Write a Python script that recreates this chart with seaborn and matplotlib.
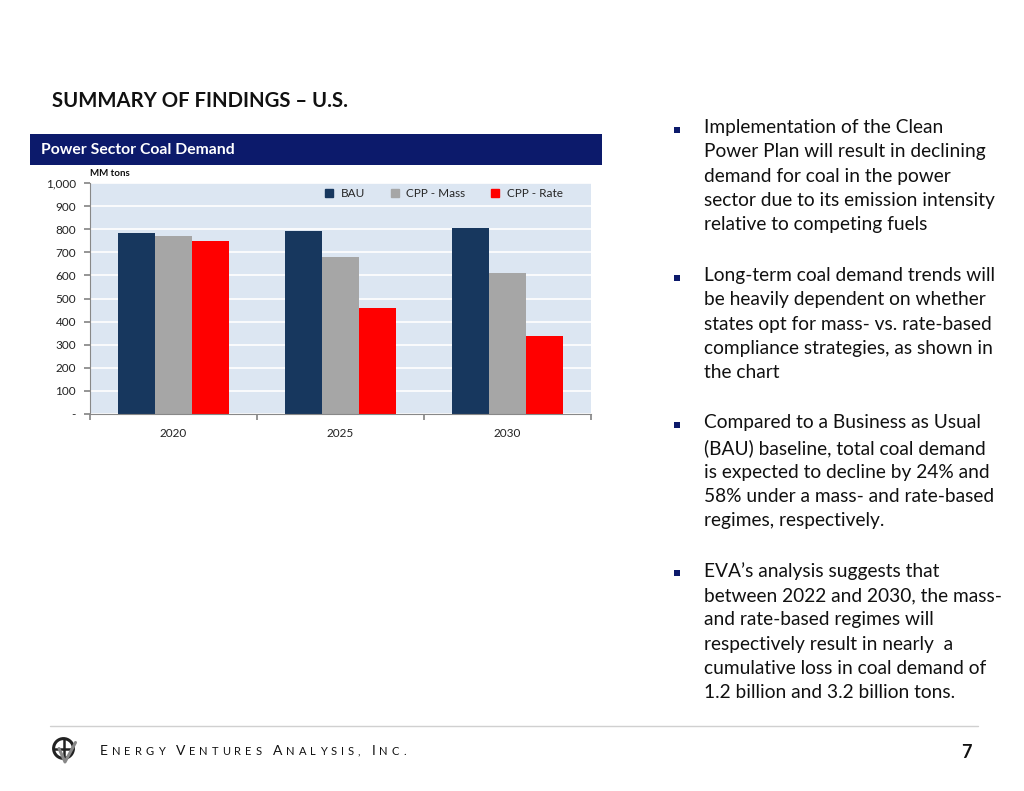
import matplotlib
matplotlib.use("Agg")
import matplotlib.pyplot as plt
from matplotlib.patches import Rectangle, Circle
from matplotlib.lines import Line2D
import matplotlib.ticker as mticker
import seaborn as sns
import pandas as pd

years = ["2020", "2025", "2030"]
series = ["BAU", "CPP - Mass", "CPP - Rate"]
bau = [785, 792, 805]
cpp_mass = [772, 680, 612]
cpp_rate = [749, 459, 338]
colors = ["#17375e", "#a6a6a6", "#ff0000"]

bullets = [
    "Implementation of the Clean\nPower Plan will result in declining\ndemand for coal in the power\nsector due to its emission intensity\nrelative to competing fuels",
    "Long-term coal demand trends will\nbe heavily dependent on whether\nstates opt for mass- vs. rate-based\ncompliance strategies, as shown in\nthe chart",
    "Compared to a Business as Usual\n(BAU) baseline, total coal demand\nis expected to decline by 24% and\n58% under a mass- and rate-based\nregimes, respectively.",
    "EVA\u2019s analysis suggests that\nbetween 2022 and 2030, the mass-\nand rate-based regimes will\nrespectively result in nearly  a\ncumulative loss in coal demand of\n1.2 billion and 3.2 billion tons.",
]

rows = []
for i, y in enumerate(years):
    rows.append((y, series[0], bau[i]))
    rows.append((y, series[1], cpp_mass[i]))
    rows.append((y, series[2], cpp_rate[i]))
df = pd.DataFrame(rows, columns=["year", "scenario", "value"])

sns.set_theme(style="white")
plt.rcParams["font.family"] = ["Lato", "DejaVu Sans"]

W, H = 1024, 791
fig = plt.figure(figsize=(W / 100, H / 100), dpi=100)
fig.patch.set_facecolor("white")

def fx(px):
    return px / W

def fy(py):
    return 1 - py / H

ax = fig.add_axes([fx(90), fy(414), fx(591) - fx(90), fy(183) - fy(414)])
ax.set_facecolor("#dce6f2")
sns.barplot(data=df, x="year", y="value", hue="scenario", palette=colors,
            width=0.66, ax=ax, saturation=1, linewidth=0, legend=False)
ax.set_ylim(0, 1000)
ax.set_xlim(-0.5, 2.5)
ax.set_yticks(range(0, 1001, 100))
ax.yaxis.set_major_formatter(mticker.FuncFormatter(lambda v, p: "-" if v == 0 else f"{int(v):,}"))
ax.grid(axis="y", color="white", linewidth=1.2)
ax.set_axisbelow(True)
ax.set_xlabel("")
ax.set_ylabel("")
for s in ["top", "right"]:
    ax.spines[s].set_visible(False)
for s in ["left", "bottom"]:
    ax.spines[s].set_color("#888888")
    ax.spines[s].set_linewidth(0.8)
ax.set_xticks([-0.5, 0.5, 1.5, 2.5], minor=False)
ax.set_xticklabels([])
ax.set_xticks([0, 1, 2], minor=True)
ax.set_xticklabels(years, minor=True)
ax.tick_params(axis="x", which="major", length=4, color="#888888", direction="out", bottom=True)
ax.tick_params(axis="x", which="minor", length=0, labelsize=8.5, pad=10, labelcolor="#222222")
ax.tick_params(axis="y", length=4, color="#888888", direction="out", left=True, labelsize=8.5,
               labelcolor="#222222", pad=6)

handles = [Line2D([], [], marker="s", linestyle="none", markersize=6, color=c) for c in colors]
leg = ax.legend(handles, series, loc="upper right", ncol=3, frameon=False,
                fontsize=8.5, handletextpad=0.0, columnspacing=1.5,
                bbox_to_anchor=(0.965, 1.025))

# MM tons label
fig.text(fx(90), fy(173), "MM tons", fontsize=7, fontweight="bold", ha="left", va="center", color="#111111")

# header bar
fig.patches.append(Rectangle((fx(30), fy(165)), fx(602) - fx(30), fy(134) - fy(165),
                             transform=fig.transFigure, facecolor="#0c1a6b", edgecolor="none"))
fig.text(fx(41), fy(150), "Power Sector Coal Demand", fontsize=11.3, fontweight="bold",
         color="white", ha="left", va="center")

# title
fig.text(fx(52), fy(101), "SUMMARY OF FINDINGS \u2013 U.S.", fontsize=14.6, fontweight="bold",
         color="#111111", ha="left", va="center")

# bullets
bullet_tops = [127, 275, 422, 570]
for top, txt in zip(bullet_tops, bullets):
    fig.patches.append(Rectangle((fx(674), fy(top + 6)), fx(6), 6 / H, transform=fig.transFigure,
                                 facecolor="#0c1a6b", edgecolor="none"))
    fig.text(fx(704), fy(top - 8), txt, fontsize=13.8, color="#111111", ha="left", va="top",
             linespacing=1.52)

# footer line
fig.add_artist(Line2D([fx(50), fx(978)], [fy(726), fy(726)], transform=fig.transFigure,
                      color="#d0d0d0", linewidth=1))

# footer small caps text
renderer = fig.canvas.get_renderer()
words = ["ENERGY", "VENTURES", "ANALYSIS,", "INC."]
xpos = 100.0
for w in words:
    for i, ch in enumerate(w):
        size = 10 if i == 0 else 8
        t = fig.text(fx(xpos), fy(755), ch, fontsize=size, color="#111111", ha="left", va="baseline")
        bb = t.get_window_extent(renderer=renderer)
        xpos += bb.width + 4.0
    xpos += 7

# logo approximation
lax = fig.add_axes([fx(50), fy(765), fx(30), 30 / H])
lax.set_xlim(0, 1)
lax.set_ylim(0, 1)
lax.axis("off")
lax.add_patch(Circle((0.45, 0.55), 0.33, fill=False, linewidth=2.2, color="#222222"))
lax.plot([0.45, 0.45], [0.22, 0.88], color="#222222", linewidth=1.8)
lax.plot([0.12, 0.78], [0.55, 0.55], color="#222222", linewidth=1.8)
lax.plot([0.3, 0.5, 0.85], [0.55, 0.1, 0.75], color="#888888", linewidth=2.2)

# page number
fig.text(fx(966), fy(752), "7", fontsize=13, fontweight="bold", color="#111111", ha="center", va="center")

fig.savefig("out.png", dpi=100)
